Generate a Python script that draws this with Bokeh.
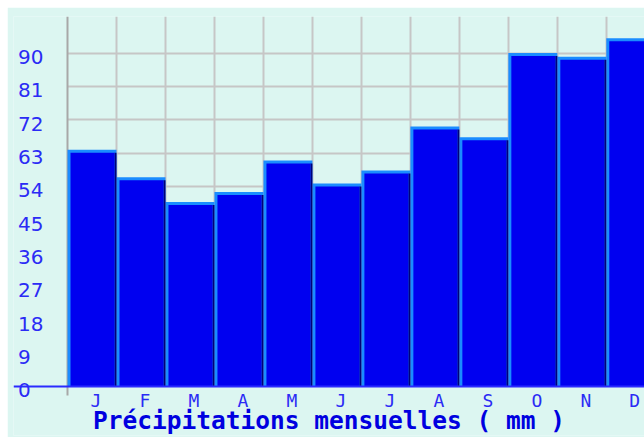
from bokeh.plotting import figure
from bokeh.models import (Range1d, LinearAxis, FixedTicker, Grid, Span,
                          ColumnDataSource)
from bokeh.embed import file_html
from bokeh.resources import INLINE

months = ["J", "F", "M", "A", "M", "J", "J", "A", "S", "O", "N", "D"]
precip = [63.9, 56.5, 49.8, 52.5, 61.0, 54.8, 58.3, 70.2, 67.3, 90.0, 89.0, 94.0]
y_ticks = [0, 9, 18, 27, 36, 45, 54, 63, 72, 81, 90]
title_text = "Précipitations mensuelles ( mm )"

BG = "#dcf6f1"
BLUE = "#0000f0"
LIGHT = "#1a8cff"
DARK = "#00007a"
LABEL = "#2b2bf5"
GRID = "#c6c6c6"

W, H = 637, 430
Y0, Y1 = -13.25, 99.87
X0, X1 = -1.103, 11.78
lab_shift = 1.07
FIG_SP = "\u2007"

p = figure(width=W, height=H, output_backend="svg", toolbar_location=None,
           x_range=Range1d(X0, X1), y_range=Range1d(Y0, Y1),
           x_axis_location=None, y_axis_location=None,
           min_border_left=6, min_border_right=0, min_border_top=9,
           min_border_bottom=0)
p.margin = (7, 0, 0, 7)
p.background_fill_color = BG
p.border_fill_color = BG
p.outline_line_color = None
p.grid.visible = False

# grids
p.add_layout(Grid(dimension=1, ticker=FixedTicker(ticks=y_ticks[1:]),
                  cross_bounds=(0, X1),
                  grid_line_color=GRID, grid_line_width=2))
p.add_layout(Grid(dimension=0, ticker=FixedTicker(ticks=list(range(1, 12))),
                  cross_bounds=(0, Y1),
                  grid_line_color=GRID, grid_line_width=2))
# vertical axis line at x = 0 (extends a little below zero)
p.add_layout(Grid(dimension=0, ticker=FixedTicker(ticks=[0]),
                  cross_bounds=(-2.5, Y1),
                  grid_line_color="#a8a8a8", grid_line_width=2))

# y axis labels (slightly lowered, left aligned), drawn inside the left band
p.extra_y_ranges = {"lab": Range1d(Y0 + lab_shift, Y1 + lab_shift)}
yax = LinearAxis(y_range_name="lab", ticker=FixedTicker(ticks=y_ticks))
yax.major_label_overrides = {t: (str(t) + FIG_SP if t < 10 else str(t))
                             for t in y_ticks}
yax.axis_line_color = None
yax.major_tick_line_color = None
yax.minor_tick_line_color = None
yax.major_tick_out = 0
yax.major_tick_in = 0
yax.minor_tick_out = 0
yax.major_label_standoff = -30
yax.major_label_text_font = "DejaVu Sans"
yax.major_label_text_font_size = "20px"
yax.major_label_text_color = LABEL
p.add_layout(yax, "left")

# x axis month labels and title, drawn inside the bottom band
n = len(months)
xpx = 1.0 / 48.97
tick_pos = [i + 0.5 + 4 * xpx for i in range(n)]
xax = LinearAxis(ticker=FixedTicker(ticks=tick_pos))
xax.major_label_overrides = {t: m for t, m in zip(tick_pos, months)}
xax.axis_line_color = None
xax.major_tick_line_color = None
xax.minor_tick_line_color = None
xax.major_tick_out = 0
xax.major_tick_in = 0
xax.minor_tick_out = 0
xax.major_label_standoff = -46
xax.major_label_text_font = "DejaVu Sans Mono"
xax.major_label_text_font_size = "18px"
xax.major_label_text_color = LABEL
xax.axis_label = title_text
xax.axis_label_standoff = -8
xax.axis_label_text_font = "DejaVu Sans Mono"
xax.axis_label_text_font_style = "bold"
xax.axis_label_text_font_size = "24.5px"
xax.axis_label_text_color = "#0000e0"
p.add_layout(xax, "below")

# bars
ypx = 1.0 / 3.7217
lefts = [float(i) for i in range(n)]
rights = [i + 1.0 for i in range(n)]
src = ColumnDataSource(dict(
    left=lefts, right=rights, top=precip, bottom=[0] * n,
    inner_left=[l + 3 * xpx for l in lefts],
    inner_right=[r - 2 * xpx for r in rights],
    inner_top=[v - 3 * ypx for v in precip],
))
p.quad(left="left", right="right", top="top", bottom="bottom", source=src,
       fill_color=LIGHT, line_color=None)
p.quad(left="inner_right", right="right", top="inner_top", bottom="bottom",
       source=src, fill_color=DARK, line_color=None)
p.quad(left="inner_left", right="inner_right", top="inner_top", bottom="bottom",
       source=src, fill_color=BLUE, line_color=None)

# zero line crossing the "0" label
p.add_layout(Span(location=0, dimension="width", line_color="#2a2aff",
                  line_width=2, level="annotation"))

open("out.html", "w").write(file_html(p, INLINE))
